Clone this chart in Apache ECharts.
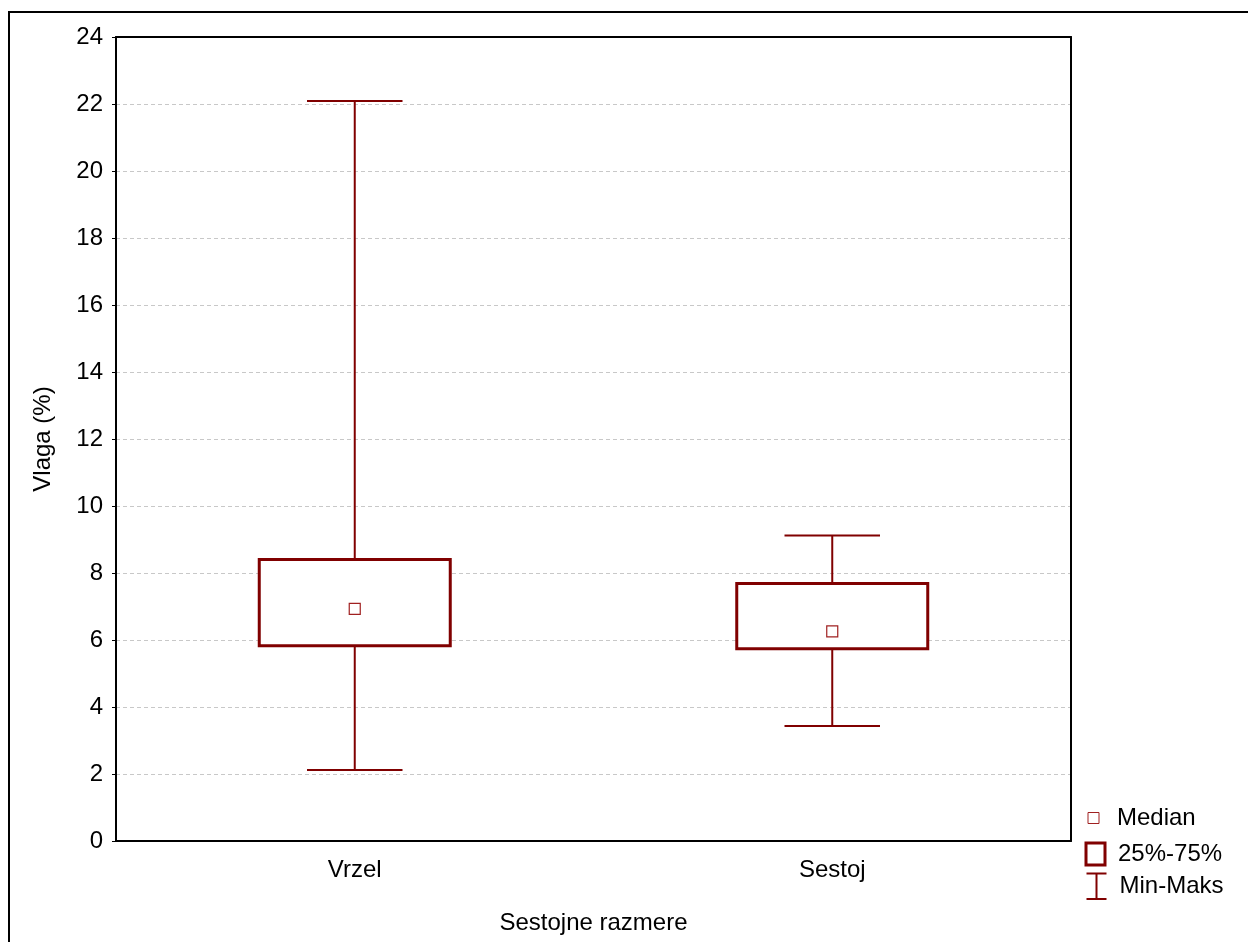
<!DOCTYPE html>
<html>
<head>
<meta charset="utf-8">
<script src="https://cdn.jsdelivr.net/npm/echarts@6/dist/echarts.min.js"></script>
<style>html,body{margin:0;padding:0;background:#fff}#c{width:1248px;height:942px}</style>
</head>
<body>
<div id="c"></div>
<script>
const categories = ['Vrzel', 'Sestoj'];
const mins = [2.12, 3.43];
const q1s = [5.83, 5.74];
const medians = [6.93, 6.26];
const q3s = [8.40, 7.69];
const maxs = [22.09, 9.12];
const yTicks = [0, 2, 4, 6, 8, 10, 12, 14, 16, 18, 20, 22, 24];

const RED = '#800000';
const FONT = 'Liberation Sans';
const FS = 24;

const rows = categories.map((c, i) => [i, mins[i], q1s[i], medians[i], q3s[i], maxs[i]]);

const chart = echarts.init(document.getElementById('c'), null, {renderer: 'canvas'});
chart.setOption({
  backgroundColor: '#fff',
  animation: false,
  textStyle: {fontFamily: FONT},
  grid: {left: 116, right: 177, top: 37, bottom: 101, show: false},
  graphic: [{
    type: 'rect', shape: {x: 9, y: 12, width: 1400, height: 1100},
    style: {fill: 'none', stroke: '#000', lineWidth: 2}, silent: true, z: 100
  }],
  xAxis: [{
    type: 'category', data: categories,
    name: 'Sestojne razmere', nameLocation: 'middle', nameGap: 70,
    nameTextStyle: {fontSize: FS, color: '#000', fontFamily: FONT},
    axisLine: {onZero: false, lineStyle: {color: '#000', width: 2}},
    axisTick: {inside: true, alignWithLabel: true, length: 5, lineStyle: {color: '#000', width: 1}},
    axisLabel: {fontSize: FS, color: '#000', margin: 17, fontFamily: FONT},
    splitLine: {show: false}
  }, {
    type: 'category', data: categories, position: 'top', z: 10,
    axisLine: {show: true, onZero: false, lineStyle: {color: '#000', width: 2}},
    axisTick: {show: false}, axisLabel: {show: false}, splitLine: {show: false}
  }],
  yAxis: [{
    type: 'value', min: 0, max: 24, interval: 2,
    name: 'Vlaga (%)', nameLocation: 'middle', nameGap: 61,
    nameTextStyle: {fontSize: FS, color: '#000', fontFamily: FONT},
    axisLine: {show: true, onZero: false, lineStyle: {color: '#000', width: 2}},
    axisTick: {show: true, length: 4, lineStyle: {color: '#000', width: 1}},
    axisLabel: {fontSize: FS, color: '#000', margin: 13, fontFamily: FONT,
      formatter: v => yTicks.includes(v) ? String(v) : ''},
    splitLine: {show: true, lineStyle: {color: '#c8c8c8', type: [4, 3], width: 1}}
  }, {
    type: 'value', min: 0, max: 24, interval: 2, position: 'right', z: 10,
    axisLine: {show: true, onZero: false, lineStyle: {color: '#000', width: 2}},
    axisTick: {show: false}, axisLabel: {show: false}, splitLine: {show: false}
  }],
  legend: [
    {data: [{name: 'Median', icon: 'rect', itemStyle: {color: '#fff', borderColor: '#a02020', borderWidth: 1}}],
     left: 1087.5, top: 806, padding: 0, itemWidth: 11, itemHeight: 11, orient: 'vertical',
     textStyle: {fontSize: FS, color: '#000', fontFamily: FONT, padding: [0, 0, 0, 13]}, selectedMode: false},
    {data: [{name: '25%-75%', icon: 'rect', itemStyle: {color: '#fff', borderColor: RED, borderWidth: 3}}],
     left: 1084.5, top: 841.5, padding: 0, itemWidth: 19, itemHeight: 22, orient: 'vertical',
     textStyle: {fontSize: FS, color: '#000', fontFamily: FONT, padding: [0, 0, 0, 8]}, selectedMode: false},
    {data: [{name: 'Min-Maks', icon: 'path://M0,0 L22,0 M11,0 L11,28 M0,28 L22,28', itemStyle: {color: 'none', borderColor: RED, borderWidth: 2}}],
     left: 1084, top: 871, padding: 0, itemWidth: 20, itemHeight: 27, orient: 'vertical',
     textStyle: {fontSize: FS, color: '#000', fontFamily: FONT, padding: [0, 0, 0, 8]}, selectedMode: false}
  ],
  series: [
    {
      name: 'Min-Maks', type: 'custom', data: rows, z: 2,
      encode: {x: 0, y: [1, 2, 3, 4, 5]},
      renderItem: (params, api) => {
        const x = api.value(0);
        const pMin = api.coord([x, api.value(1)]);
        const pQ1 = api.coord([x, api.value(2)]);
        const pQ3 = api.coord([x, api.value(4)]);
        const pMax = api.coord([x, api.value(5)]);
        const band = api.size([1, 0])[0];
        const cw = band * 0.2;
        const st = {stroke: RED, lineWidth: 2};
        return {type: 'group', children: [
          {type: 'line', shape: {x1: pMax[0], y1: pMax[1], x2: pQ3[0], y2: pQ3[1]}, style: st},
          {type: 'line', shape: {x1: pQ1[0], y1: pQ1[1], x2: pMin[0], y2: pMin[1]}, style: st},
          {type: 'line', shape: {x1: pMax[0] - cw / 2, y1: pMax[1], x2: pMax[0] + cw / 2, y2: pMax[1]}, style: st},
          {type: 'line', shape: {x1: pMin[0] - cw / 2, y1: pMin[1], x2: pMin[0] + cw / 2, y2: pMin[1]}, style: st}
        ]};
      }
    },
    {
      name: '25%-75%', type: 'custom', data: rows, z: 3,
      encode: {x: 0, y: [2, 4]},
      renderItem: (params, api) => {
        const x = api.value(0);
        const pQ1 = api.coord([x, api.value(2)]);
        const pQ3 = api.coord([x, api.value(4)]);
        const band = api.size([1, 0])[0];
        const w = band * 0.4;
        return {type: 'rect', shape: {x: pQ1[0] - w / 2, y: pQ3[1], width: w, height: pQ1[1] - pQ3[1]},
          style: {fill: '#fff', stroke: RED, lineWidth: 3}};
      }
    },
    {
      name: 'Median', type: 'scatter', z: 4,
      data: categories.map((c, i) => [i, medians[i]]),
      symbol: 'rect', symbolSize: 11,
      itemStyle: {color: '#fff', borderColor: '#a02020', borderWidth: 1.2, opacity: 1}
    }
  ]
});
</script>
</body>
</html>
